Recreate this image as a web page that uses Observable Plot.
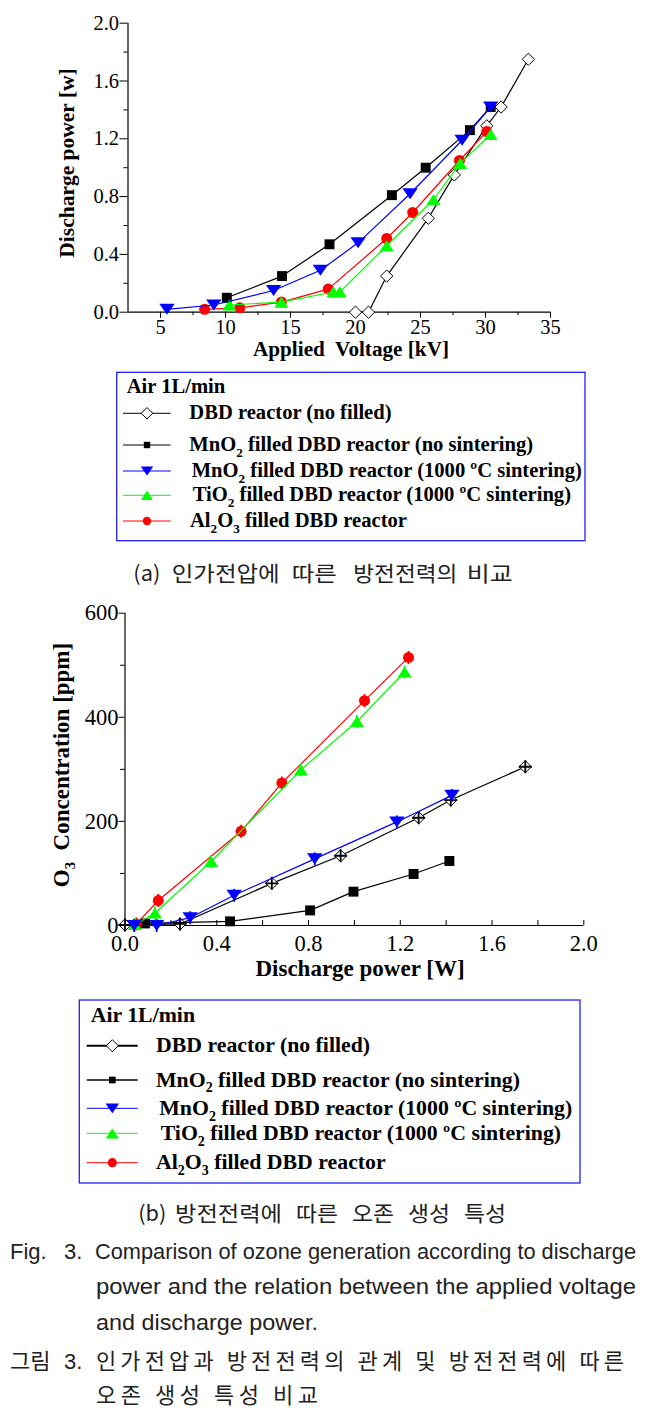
<!DOCTYPE html>
<html><head><meta charset="utf-8">
<script src="https://cdn.jsdelivr.net/npm/d3@7"></script>
<script src="https://cdn.jsdelivr.net/npm/@observablehq/plot@0.6"></script>
<style>
html,body{margin:0;padding:0;background:#fff;}
#page{position:relative;width:645px;height:1417px;overflow:hidden;background:#fff;}
#page > svg{position:absolute;left:0;}
</style></head>
<body><div id="page"></div>
<script>
// ================= DATA =================
// (a) Applied voltage [kV] vs discharge power [W]
const aNoFilledV = [20.0, 21.0, 22.4, 25.6, 27.6, 30.1, 31.2, 33.3];
const aNoFilledP = [0.0, 0.0, 0.25, 0.65, 0.95, 1.29, 1.42, 1.75];
const aMnOV  = [10.1, 14.35, 18.0, 22.8, 25.4, 28.8, 30.4];
const aMnOP  = [0.10, 0.25, 0.47, 0.81, 1.00, 1.26, 1.42];
const aMnOSV = [5.5, 9.1, 13.7, 17.3, 20.2, 24.2, 28.2, 30.4];
const aMnOSP = [0.02, 0.05, 0.15, 0.29, 0.48, 0.82, 1.19, 1.42];
const aTiOV  = [10.3, 14.3, 18.3, 18.8, 22.4, 26.0, 28.05, 30.4];
const aTiOP  = [0.05, 0.07, 0.14, 0.14, 0.46, 0.78, 1.03, 1.23];
const aAlV   = [8.4, 11.1, 14.3, 17.9, 22.4, 24.4, 28.0, 30.1];
const aAlP   = [0.02, 0.03, 0.07, 0.16, 0.51, 0.69, 1.05, 1.25];
const aXDomain = [2.5, 35];
const aXTicks = [5, 10, 15, 20, 25, 30, 35];
const aXMinor = [7.5, 12.5, 17.5, 22.5, 27.5, 32.5];
const aYDomain = [0, 2];
const aYTicks = [0, 0.4, 0.8, 1.2, 1.6, 2.0];
const aYMinor = [0.2, 0.6, 1.0, 1.4, 1.8];
const aXLabel = "Applied  Voltage [kV]";
const aYLabel = "Discharge power [w]";

// (b) Discharge power [W] vs O3 concentration [ppm]
const bNoFilledW = [0.0, 0.24, 0.64, 0.94, 1.28, 1.42, 1.745];
const bNoFilledO = [1, 3, 81, 134, 207, 241, 305];
const bMnOW  = [0.087, 0.458, 0.807, 0.996, 1.258, 1.414];
const bMnOO  = [4, 8, 29, 65, 99, 124];
const bMnOSW = [0.04, 0.138, 0.284, 0.476, 0.827, 1.185, 1.425];
const bMnOSO = [0, 0, 15, 58, 128, 199, 250];
const bTiOW  = [0.044, 0.131, 0.375, 0.767, 1.011, 1.219];
const bTiOO  = [2, 24, 123, 299, 392, 487];
const bAlW   = [0.05, 0.145, 0.506, 0.684, 1.044, 1.236];
const bAlO   = [3, 48, 181, 274, 432, 515];
const bXDomain = [0, 2];
const bXTicks = [0, 0.4, 0.8, 1.2, 1.6, 2.0];
const bXMinor = [0.2, 0.6, 1.0, 1.4, 1.8];
const bYDomain = [0, 600];
const bYTicks = [0, 200, 400, 600];
const bYMinor = [100, 300, 500];
const bXLabel = "Discharge power [W]";
const bYLabel = [["O"], ["3", "sub"], ["  Concentration [ppm]"]];

// Legend
const legendTitle = "Air 1L/min";
const legendLabels = [
  [["DBD reactor (no filled)"]],
  [["MnO"], ["2", "sub"], [" filled DBD reactor (no sintering)"]],
  [["MnO"], ["2", "sub"], [" filled DBD reactor (1000 ºC sintering)"]],
  [["TiO"], ["2", "sub"], [" filled DBD reactor (1000 ºC sintering)"]],
  [["Al"], ["2", "sub"], ["O"], ["3", "sub"], [" filled DBD reactor"]]
];
// Captions
const capA = ["(a)", "인가전압에", "따른", "방전전력의", "비교"];
const capB = ["(b)", "방전전력에", "따른", "오존", "생성", "특성"];
const figLines = [
  ["Fig.", "3.", "Comparison of ozone generation according to discharge"],
  ["", "", "power and the relation between the applied voltage"],
  ["", "", "and discharge power."],
  ["그림", "3.", "인가전압과 방전전력의 관계 및 방전전력에 따른"],
  ["", "", "오존 생성 특성 비교"]
];

// ================= SYMBOLS / STYLES =================
const mk = draw => ({draw});
const symDiamond = mk((c, s) => { const a = Math.sqrt(s / 2); c.moveTo(0, -a); c.lineTo(a, 0); c.lineTo(0, a); c.lineTo(-a, 0); c.closePath(); });
const symSquare = mk((c, s) => { const h = Math.sqrt(s) / 2; c.moveTo(-h, -h); c.lineTo(h, -h); c.lineTo(h, h); c.lineTo(-h, h); c.closePath(); });
const symTriDown = mk((c, s) => { const w = Math.sqrt(s / 0.36), h = 0.72 * w; c.moveTo(-w / 2, -h / 2); c.lineTo(w / 2, -h / 2); c.lineTo(0, h / 2); c.closePath(); });
const symTriUp = mk((c, s) => { const w = Math.sqrt(s / 0.4), h = 0.8 * w; c.moveTo(-w / 2, h / 2); c.lineTo(w / 2, h / 2); c.lineTo(0, -h / 2); c.closePath(); });
const symCircle = mk((c, s) => { const r = Math.sqrt(s / Math.PI); c.moveTo(r, 0); c.arc(0, 0, r, 0, 2 * Math.PI); });
const symPlus = mk((c, s) => { const r = Math.sqrt(s / Math.PI); c.moveTo(-r, 0); c.lineTo(r, 0); c.moveTo(0, -r); c.lineTo(0, r); });
const symVbar = mk((c, s) => { const r = Math.sqrt(s / Math.PI); c.moveTo(0, -r); c.lineTo(0, r); });

const styles = [
  {color: "#000000", symbol: symDiamond, fill: "#ffffff", stroke: "#000000", r: 4.9, err: symPlus},
  {color: "#000000", symbol: symSquare, fill: "#000000", stroke: "none", r: 5.6, err: null},
  {color: "#0000ff", symbol: symTriDown, fill: "#0000ff", stroke: "none", r: 5.2, err: symVbar},
  {color: "#00ff00", symbol: symTriUp, fill: "#00ff00", stroke: "none", r: 5.0, err: symVbar},
  {color: "#ff0000", symbol: symCircle, fill: "#ff0000", stroke: "none", r: 5.5, err: symVbar}
];
const drawOrder = [0, 1, 4, 3, 2];
const serif = "'Liberation Serif', 'Times New Roman', serif";

const page = document.getElementById("page");
const rows = (xs, ys) => xs.map((x, i) => ({x, y: ys[i]}));

function seriesMarks(series, withErr) {
  const out = [];
  for (const k of drawOrder) {
    const st = styles[k], data = series[k];
    out.push(Plot.line(data, {x: "x", y: "y", stroke: st.color, strokeWidth: 1.2}));
    out.push(Plot.dot(data, {x: "x", y: "y", symbol: st.symbol, r: st.r, fill: st.fill, stroke: st.stroke, strokeWidth: 1}));
    if (withErr && st.err) out.push(Plot.dot(data, {x: "x", y: "y", symbol: st.err, r: 6.5, fill: "none", stroke: st.color, strokeWidth: 1.8}));
  }
  return out;
}

// ================= CHART (a) =================
const aSeries = [rows(aNoFilledV, aNoFilledP), rows(aMnOV, aMnOP), rows(aMnOSV, aMnOSP), rows(aTiOV, aTiOP), rows(aAlV, aAlP)];
const A = {top: 0, width: 645, height: 365, mt: 22.7, mb: 53.3, ml: 127.5, mr: 95};
const chartA = Plot.plot({
  width: A.width, height: A.height,
  marginTop: A.mt, marginBottom: A.mb, marginLeft: A.ml, marginRight: A.mr,
  style: {fontFamily: serif, fontSize: "20.5px", color: "#000", background: "transparent", overflow: "visible"},
  x: {domain: aXDomain},
  y: {domain: aYDomain},
  marks: [
    Plot.axisX({ticks: aXTicks, tickSize: 6, tickPadding: 1.5, tickFormat: d => String(d), label: null}),
    Plot.axisX({ticks: aXMinor, tickSize: 3.5, tickFormat: () => "", label: null}),
    Plot.axisY({ticks: aYTicks, tickSize: 8, tickPadding: 1, tickFormat: d3.format(".1f"), label: null}),
    Plot.axisY({ticks: aYMinor, tickSize: 4, tickFormat: () => "", label: null}),
    Plot.ruleX([aXDomain[0]], {stroke: "#000", strokeWidth: 1.2}),
    Plot.ruleY([aYDomain[0]], {stroke: "#000", strokeWidth: 1.2}),
    ...seriesMarks(aSeries, false)
  ]
});
chartA.style.top = A.top + "px";
page.appendChild(chartA);

// ================= CHART (b) =================
const bSeries = [rows(bNoFilledW, bNoFilledO), rows(bMnOW, bMnOO), rows(bMnOSW, bMnOSO), rows(bTiOW, bTiOO), rows(bAlW, bAlO)];
const B = {top: 595, width: 645, height: 395, mt: 17.7, mb: 65, ml: 124.5, mr: 61.7};
const bInnerH = B.height - B.mt - B.mb;
const chartB = Plot.plot({
  width: B.width, height: B.height,
  marginTop: B.mt, marginBottom: B.mb, marginLeft: B.ml, marginRight: B.mr,
  style: {fontFamily: serif, fontSize: "22.5px", color: "#000", background: "transparent", overflow: "visible"},
  x: {domain: bXDomain},
  y: {domain: bYDomain},
  marks: [
    Plot.axisX({ticks: bXTicks, tickSize: 0, tickPadding: 10, tickFormat: d3.format(".1f"), label: null}),
    Plot.ruleX([...bXTicks, ...bXMinor], {insetTop: bInnerH - 5, stroke: "#000"}),
    Plot.axisY({ticks: bYTicks, tickSize: 6, tickPadding: 0.5, tickFormat: d => String(d), label: null}),
    Plot.axisY({ticks: bYMinor, tickSize: 4.5, tickFormat: () => "", label: null}),
    Plot.ruleX([bXDomain[0]], {stroke: "#000", strokeWidth: 1.2}),
    Plot.ruleY([bYDomain[0]], {stroke: "#000", strokeWidth: 1.2}),
    ...seriesMarks(bSeries, true)
  ]
});
chartB.style.top = B.top + "px";
page.appendChild(chartB);

// ================= OVERLAY: axis titles, legends, captions =================
const ov = d3.select(page).append("svg")
  .attr("width", 645).attr("height", 1417)
  .style("top", "0px").style("pointer-events", "none")
  .attr("font-family", serif);

function rich(sel, segs, fs) {
  let shifted = false;
  for (const [txt, kind] of segs) {
    const t = sel.append("tspan").text(txt);
    if (kind === "sub" && !shifted) { t.attr("dy", 0.27 * fs).attr("font-size", fs * 0.64); shifted = true; }
    else if (kind !== "sub" && shifted) { t.attr("dy", -0.27 * fs); shifted = false; }
  }
  return sel;
}

// axis titles
ov.append("text").attr("x", 351).attr("y", 355.5).attr("text-anchor", "middle")
  .attr("font-weight", "bold").attr("font-size", 21.2).style("white-space", "pre").text(aXLabel);
ov.append("text").attr("transform", "translate(74,163) rotate(-90)").attr("text-anchor", "middle")
  .attr("font-weight", "bold").attr("font-size", 21.5).text(aYLabel);
ov.append("text").attr("x", 360).attr("y", 976).attr("text-anchor", "middle")
  .attr("font-weight", "bold").attr("font-size", 23).text(bXLabel);
rich(ov.append("text").attr("transform", "translate(68.5,765) rotate(-90)").attr("text-anchor", "middle")
  .attr("font-weight", "bold").attr("font-size", 23).style("white-space", "pre"), bYLabel, 23);

// legends
function legend(cfg) {
  const g = ov.append("g");
  g.append("rect").attr("x", cfg.box[0]).attr("y", cfg.box[1]).attr("width", cfg.box[2] - cfg.box[0]).attr("height", cfg.box[3] - cfg.box[1])
    .attr("fill", "none").attr("stroke", "#2020ff").attr("stroke-width", 1.3);
  g.append("text").attr("x", cfg.titleX).attr("y", cfg.titleY + 0.33 * cfg.fs).attr("font-weight", "bold").attr("font-size", cfg.fs).text(legendTitle);
  legendLabels.forEach((segs, i) => {
    const st = styles[i], y = cfg.rowY[i];
    g.append("line").attr("x1", cfg.sw[0]).attr("x2", cfg.sw[1]).attr("y1", y).attr("y2", y)
      .attr("stroke", st.color).attr("stroke-width", cfg.lw[i]);
    g.append("path").attr("transform", `translate(${cfg.sw[2]},${y})`)
      .attr("d", d3.symbol(st.symbol, Math.PI * cfg.mr[i] * cfg.mr[i])())
      .attr("fill", st.fill).attr("stroke", st.stroke).attr("stroke-width", 1);
    rich(g.append("text").attr("x", cfg.textX[i]).attr("y", y + 0.3 * cfg.fs).attr("font-weight", "bold").attr("font-size", cfg.fs), segs, cfg.fs);
  });
}
legend({box: [116.7, 372.3, 585, 540.7], titleX: 126.7, titleY: 386.7, fs: 20.6,
  rowY: [413.3, 445, 471, 495.3, 521], sw: [123, 170.7, 147], textX: [189.3, 189.3, 191.7, 192.7, 190],
  lw: [1, 1, 1, 1, 1], mr: [4.6, 3.6, 4.2, 4.2, 4.2]});
legend({box: [79.3, 1000, 580, 1183], titleX: 90.7, titleY: 1015, fs: 21.8,
  rowY: [1045.7, 1080, 1108.3, 1133.3, 1162.7], sw: [86.7, 137.7, 112.3], textX: [156, 156, 159.3, 160.7, 156],
  lw: [2, 1.4, 1, 1, 1], mr: [4.8, 3.8, 4.6, 4.6, 4.6]});

// sub-captions
const kor = "'Noto Sans CJK KR', 'Noto Sans', sans-serif";
function wordsAt(words, xs, y, fs, widths) {
  words.forEach((w, i) => {
    const t = ov.append("text").attr("x", xs[i]).attr("y", y).attr("font-family", kor).attr("font-size", fs).attr("fill", "#222").text(w);
    if (widths && widths[i]) t.attr("textLength", widths[i]).attr("lengthAdjust", "spacingAndGlyphs");
  });
}
wordsAt(capA, [133.3, 171.7, 291.7, 353.3, 466.7], 580.5, 21, [27, 108, 45, 104, 46]);
wordsAt(capB, [138.3, 175, 296, 352, 408, 464], 1220.5, 21, [28, 107, 42, 42, 42, 42]);

// figure caption
const figY = [1258.5, 1294, 1330, 1369, 1403];
const figX = [[10, 64, 95], [10, 64, 96], [10, 64, 96], [10, 64, 96], [10, 64, 96]];
const figW = [541, 540, 222, 528, 222];
figLines.forEach((ln, i) => {
  const isKor = /[가-힣]/.test(ln[2]);
  ln.forEach((txt, j) => {
    if (!txt) return;
    const t = ov.append("text").attr("x", figX[i][j]).attr("y", figY[i]).attr("font-family", /[가-힣]/.test(txt) ? kor : "'Liberation Sans', Arial, sans-serif")
      .attr("font-size", 22).attr("fill", "#222").text(txt);
    if (j === 2) t.attr("textLength", figW[i]).attr("lengthAdjust", isKor ? "spacing" : "spacingAndGlyphs");
  });
});
</script>
</body></html>
